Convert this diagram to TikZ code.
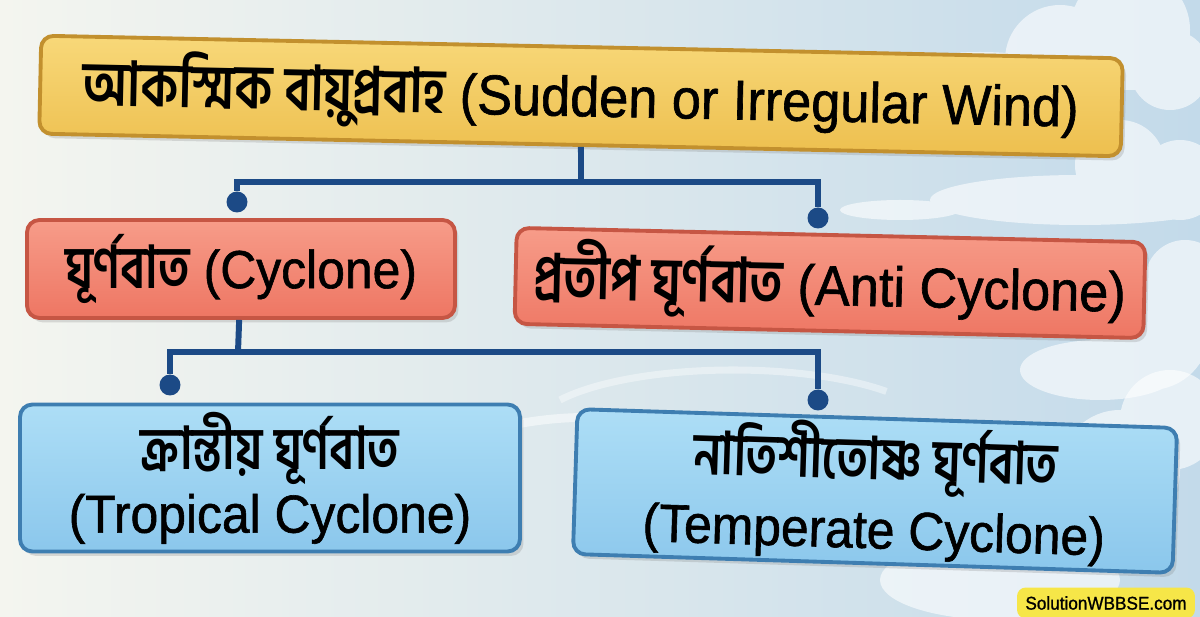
\documentclass[tikz,border=0pt]{standalone}
\usepackage{fontspec}
\setmainfont[FakeStretch=0.93, FakeBold=1.1]{Liberation Sans}
\newfontfamily\bn[Script=Bengali, FakeStretch=0.8, Scale=1.1]{Hind Siliguri}
\usetikzlibrary{shadows}
\definecolor{navy}{HTML}{1C4A86}
\definecolor{bgl}{HTML}{F4F5EF}
\definecolor{bgm}{HTML}{E9F0F2}
\definecolor{bgr}{HTML}{C3DAEA}
\definecolor{ytop}{HTML}{F8D879}
\definecolor{ybot}{HTML}{EDBF4E}
\definecolor{ybord}{HTML}{C2902E}
\definecolor{rtop}{HTML}{F79C89}
\definecolor{rbot}{HTML}{EE7663}
\definecolor{rbord}{HTML}{C65644}
\definecolor{btop}{HTML}{ADDEF6}
\definecolor{bbot}{HTML}{8BC7EC}
\definecolor{bbord}{HTML}{3E7EB1}
\definecolor{tag}{HTML}{F6E648}
\newcommand{\bng}[1]{{\bn\bfseries #1}}
\tikzset{
  box/.style={draw, line width=2.2pt, rounded corners=7pt, align=center, inner sep=0pt,
    drop shadow={opacity=0.25, shadow xshift=2pt, shadow yshift=-2.5pt}},
  yellowbox/.style={box, draw=ybord, top color=ytop, bottom color=ybot},
  redbox/.style={box, draw=rbord, top color=rtop, bottom color=rbot},
  bluebox/.style={box, draw=bbord, top color=btop, bottom color=bbot},
  link/.style={navy, line width=3.4pt},
  knob/.style={circle, fill=navy, inner sep=0pt, minimum size=0.42cm},
  cloud/.style={white, opacity=0.6},
}
\begin{document}
\begin{tikzpicture}[x=0.02cm, y=-0.02cm]
	\useasboundingbox (0,0) rectangle (1200,617);
	\fill[left color=bgl, middle color=bgm, right color=bgr] (0,0) rectangle (1200,617);
	% clouds
	\fill[cloud] (1060,60) circle (55) (1130,30) circle (60) (1170,70) circle (40) (980,70) ellipse (80 and 18);
	\fill[cloud] (1080,200) ellipse (150 and 25) (1120,165) circle (45) (1180,180) circle (40) (900,210) ellipse (60 and 10);
	\fill[cloud] (1150,330) circle (60) (1185,280) circle (40) (1100,370) ellipse (80 and 30);
	\fill[cloud] (1120,470) circle (60) (1060,520) circle (55) (1170,420) circle (50) (1000,580) ellipse (120 and 40);
	\draw[white, line width=5pt, opacity=0.5] (420,470) arc (200:330:180 and 80);
	\draw[white, line width=4pt, opacity=0.4] (560,400) arc (210:320:200 and 60);
	% boxes
	\node[yellowbox, rotate=-1.2, minimum width=21.64cm, minimum height=1.96cm, font=\fontsize{32}{38}\selectfont] (top) at (581,96)
		{\bng{আকস্মিক বায়ুপ্রবাহ} (Sudden or Irregular Wind)};
	\node[redbox, minimum width=8.56cm, minimum height=1.96cm, font=\fontsize{30.5}{36}\selectfont] (cyc) at (241,269)
		{\bng{ঘূর্ণবাত} (Cyclone)};
	\node[redbox, rotate=-1.3, minimum width=12.58cm, minimum height=1.92cm, font=\fontsize{32}{38}\selectfont] (anti) at (830,283)
		{\bng{প্রতীপ ঘূর্ণবাত} (Anti Cyclone)};
	\node[bluebox, minimum width=10cm, minimum height=2.94cm, font=\fontsize{30.5}{36}\selectfont] (trop) at (270,478)
		{\bng{ক্রান্তীয় ঘূর্ণবাত}\\(Tropical Cyclone)};
	\node[bluebox, rotate=-1.8, minimum width=12cm, minimum height=2.9cm, font=\fontsize{30.5}{39}\selectfont] (temp) at (875,491)
		{\bng{নাতিশীতোষ্ণ ঘূর্ণবাত}\\(Temperate Cyclone)};
	% connectors
	\coordinate (jt) at (581,182);
	\node[knob] (kl) at (237,202) {};
	\node[knob] (kr) at (818,218) {};
	\draw[link] (top) -- (jt);
	\draw[link] (jt) -| (kl);
	\draw[link] (jt) -| (kr);
	\coordinate (jc) at (238,352);
	\node[knob] (kl2) at (170,385) {};
	\node[knob] (kr2) at (818,400) {};
	\draw[link] (cyc) -- (jc);
	\draw[link] (jc) -| (kl2);
	\draw[link] (jc) -| (kr2);
	% tag
	\node[fill=tag, rounded corners=5pt, minimum width=3.56cm, minimum height=0.62cm, inner sep=0pt] (mark) at (1106,603)
		{\fontsize{10.5}{12}\selectfont SolutionWBBSE.com};
\end{tikzpicture}
\end{document}
